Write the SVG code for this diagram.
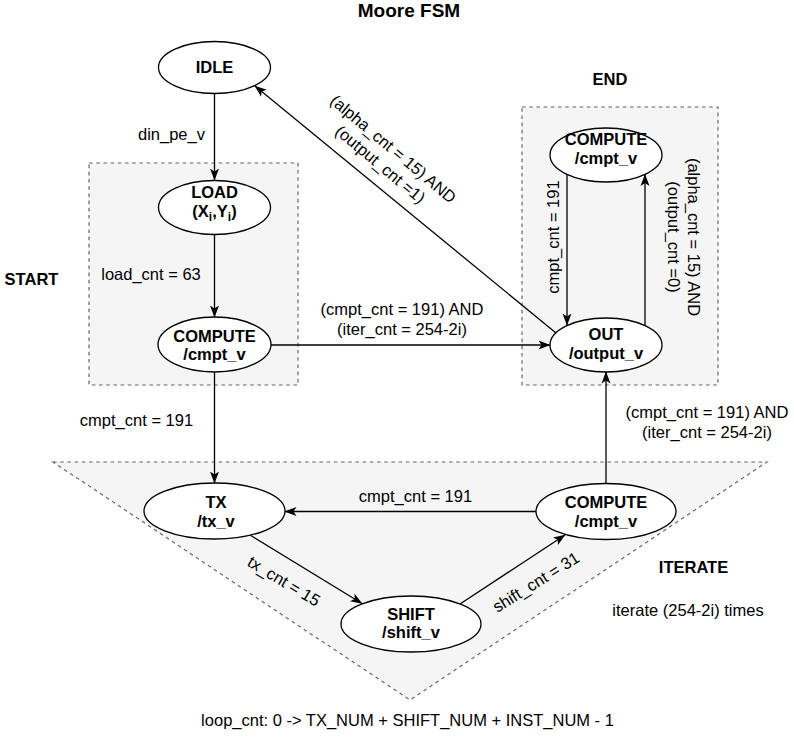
<svg xmlns="http://www.w3.org/2000/svg" width="794" height="737" viewBox="0 0 794 737">
  <defs>
    <marker id="arrow" markerUnits="userSpaceOnUse" markerWidth="12" markerHeight="10" viewBox="0 0 12 10" refX="11.5" refY="5" orient="auto">
      <path d="M12,5 L0,0.5 L3,5 L0,9.5 Z" fill="#000"/>
    </marker>
  </defs>
  <style>
    text { font-family: "Liberation Sans", Arial, Helvetica, sans-serif; font-size: 16.5px; fill: #000; }
    .b { font-weight: bold; }
    .c { text-anchor: middle; }
    .group { fill: #f5f5f5; stroke: #666666; stroke-width: 1.2; stroke-dasharray: 3.6 3.6; }
    .state ellipse { fill: #ffffff; stroke: #000000; stroke-width: 1.3; }
    .state text { font-weight: bold; text-anchor: middle; }
    .edge { fill: none; stroke: #000000; stroke-width: 1.3; marker-end: url(#arrow); }
  </style>

  <rect width="794" height="737" fill="#ffffff"/>

  <!-- title -->
  <text class="b c" x="409" y="17" style="font-size:19px">Moore FSM</text>

  <!-- state groups -->
  <g id="group-start">
    <rect class="group" x="89" y="163" width="209" height="222"/>
    <text class="b c" x="31.5" y="285">START</text>
  </g>
  <g id="group-end">
    <rect class="group" x="522" y="107" width="196" height="278"/>
    <text class="b c" x="610" y="85">END</text>
  </g>
  <g id="group-iterate">
    <path class="group" d="M53,462 L767,462 L410,700 Z"/>
    <text class="b c" x="693.5" y="573">ITERATE</text>
    <text class="c" x="688" y="616">iterate (254-2i) times</text>
  </g>

  <!-- transitions -->
  <g id="connectors">
    <line class="edge" x1="214.5" y1="93.5" x2="214.5" y2="180"/>
    <text class="c" x="171.5" y="140">din_pe_v</text>

    <line class="edge" x1="214.5" y1="235" x2="214.5" y2="317"/>
    <text class="c" x="151" y="280">load_cnt = 63</text>

    <line class="edge" x1="214.5" y1="372" x2="214.5" y2="483"/>
    <text class="c" x="136.5" y="426">cmpt_cnt = 191</text>

    <line class="edge" x1="271" y1="345" x2="550" y2="345"/>
    <text class="c" x="402" y="315">(cmpt_cnt = 191) AND</text>
    <text class="c" x="402" y="335">(iter_cnt = 254-2i)</text>

    <line class="edge" x1="556" y1="333" x2="255" y2="86"/>
    <text class="c" transform="translate(384.5,159.5) rotate(40)"><tspan x="0" y="-8">(alpha_cnt = 15) AND</tspan><tspan x="0" y="12">(output_cnt =1)</tspan></text>

    <line class="edge" x1="567" y1="174.5" x2="567" y2="325"/>
    <text class="c" transform="translate(559,237) rotate(-90)">cmpt_cnt = 191</text>

    <line class="edge" x1="645" y1="325" x2="645" y2="174.5"/>
    <text class="c" transform="translate(678,237) rotate(90)"><tspan x="0" y="-10">(alpha_cnt = 15) AND</tspan><tspan x="0" y="10">(output_cnt =0)</tspan></text>

    <line class="edge" x1="606" y1="483.5" x2="606" y2="372"/>
    <text class="c" x="707" y="418">(cmpt_cnt = 191) AND</text>
    <text class="c" x="707" y="438">(iter_cnt = 254-2i)</text>

    <line class="edge" x1="536" y1="511.5" x2="285" y2="511.5"/>
    <text class="c" x="415.5" y="502">cmpt_cnt = 191</text>

    <line class="edge" x1="250" y1="535" x2="362" y2="603.5"/>
    <text class="c" transform="translate(281,586) rotate(31)">tx_cnt = 15</text>

    <line class="edge" x1="460" y1="604" x2="565" y2="535"/>
    <text class="c" transform="translate(539,587) rotate(-32)">shift_cnt = 31</text>
  </g>

  <!-- states -->
  <g id="idle" class="state">
    <ellipse cx="214.5" cy="67.5" rx="56" ry="26"/>
    <text x="214.5" y="73">IDLE</text>
  </g>
  <g id="load" class="state">
    <ellipse cx="214.5" cy="207.5" rx="56" ry="27"/>
    <text x="214.5" y="198">LOAD</text>
    <text x="214.5" y="217">(X<tspan dy="4" style="font-size:12px">i</tspan><tspan dy="-4">,Y</tspan><tspan dy="4" style="font-size:12px">i</tspan><tspan dy="-4">)</tspan></text>
  </g>
  <g id="compute-start" class="state">
    <ellipse cx="214.5" cy="344.5" rx="56.5" ry="27.5"/>
    <text x="214.5" y="341.5">COMPUTE</text>
    <text x="214.5" y="360">/cmpt_v</text>
  </g>
  <g id="compute-end" class="state">
    <ellipse cx="606" cy="155" rx="56" ry="27"/>
    <text x="606" y="145">COMPUTE</text>
    <text x="606" y="164">/cmpt_v</text>
  </g>
  <g id="out" class="state">
    <ellipse cx="606" cy="345" rx="56" ry="27"/>
    <text x="606" y="340">OUT</text>
    <text x="606" y="358.5">/output_v</text>
  </g>
  <g id="tx" class="state">
    <ellipse cx="214.5" cy="511" rx="70.5" ry="28"/>
    <text x="216" y="508">TX</text>
    <text x="216" y="527">/tx_v</text>
  </g>
  <g id="compute-iter" class="state">
    <ellipse cx="606" cy="511.5" rx="70" ry="28"/>
    <text x="606" y="508">COMPUTE</text>
    <text x="606" y="527">/cmpt_v</text>
  </g>
  <g id="shift" class="state">
    <ellipse cx="411" cy="624" rx="70" ry="28"/>
    <text x="411" y="620">SHIFT</text>
    <text x="411" y="638">/shift_v</text>
  </g>

  <!-- loop counter note -->
  <text class="c" x="407.5" y="726">loop_cnt: 0 -&gt; TX_NUM + SHIFT_NUM + INST_NUM - 1</text>
</svg>
